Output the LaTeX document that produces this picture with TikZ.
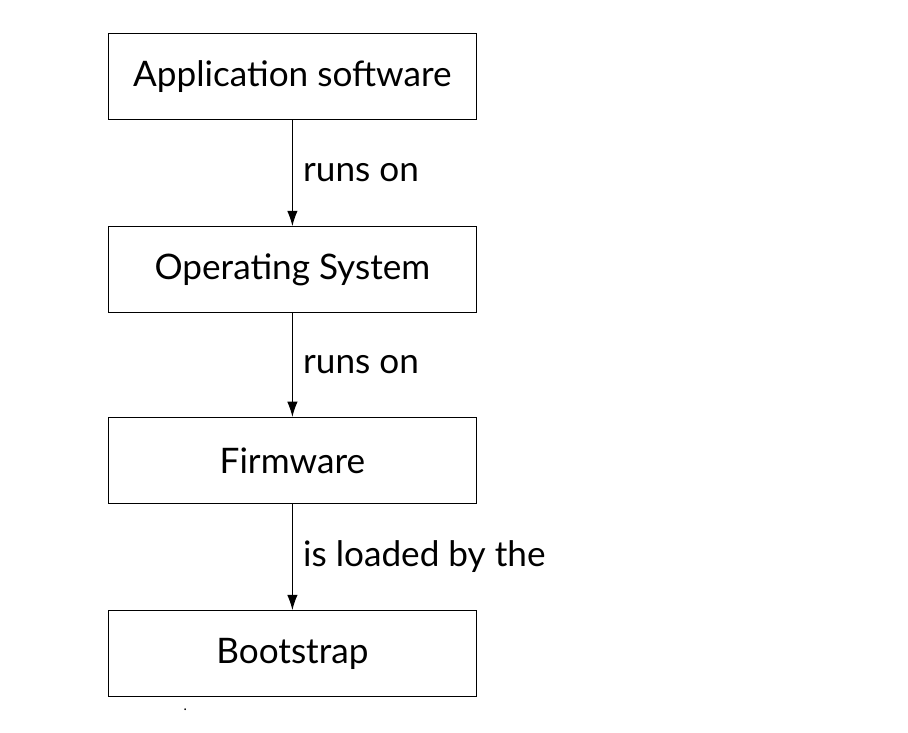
\documentclass[tikz,border=0pt]{standalone}
\usepackage{fontspec}
\setmainfont{Lato}
\usetikzlibrary{positioning,arrows.meta}
\tikzset{
  layer/.style={draw,line width=0.7pt,minimum width=9.22cm,minimum height=2.15cm,inner sep=0pt,font=\fontsize{25}{29}\selectfont},
  link/.style={line width=0.7pt,-{Latex[length=3.8mm,width=2.6mm]}},
  linklabel/.style={right,xshift=4pt,font=\fontsize{25}{29}\selectfont}
}
\begin{document}
\begin{tikzpicture}
   \useasboundingbox (0,0) rectangle (22.7,-18.3);
   \node [layer] (app) at (7.31,-1.91) {Application software};
   \node [layer] (os) at (7.31,-6.74) {Operating System};
   \node [layer] (fw) at (7.31,-11.51) {Firmware};
   \node [layer] (boot) at (7.31,-16.34) {Bootstrap};
   \draw [link] (app) -- node [linklabel] {runs on} (os);
   \draw [link] (os) -- node [linklabel] {runs on} (fw);
   \draw [link] (fw) -- node [linklabel] {is loaded by the} (boot);
   \node (dot) at (4.63,-17.75) {.};
\end{tikzpicture}
\end{document}
